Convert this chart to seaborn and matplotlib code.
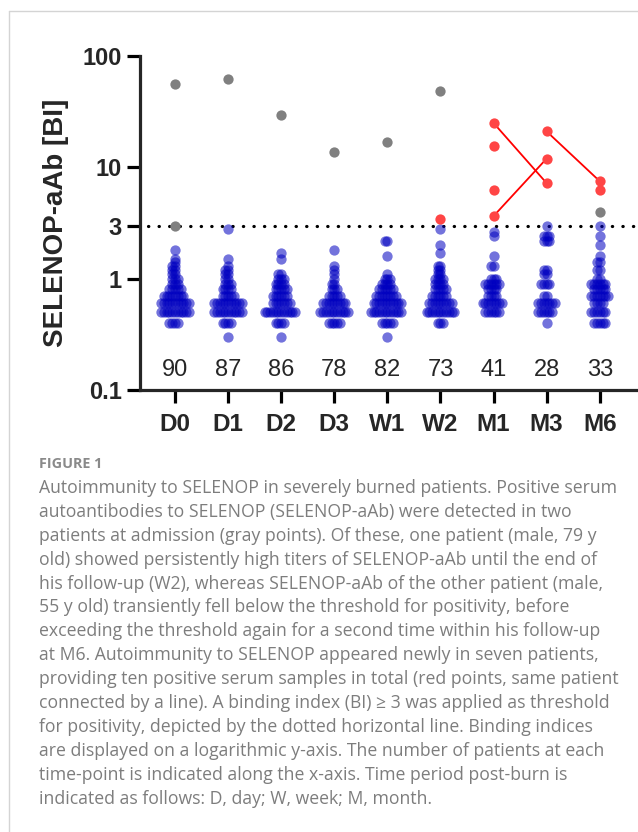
import matplotlib
matplotlib.use("Agg")
import matplotlib.pyplot as plt
from matplotlib.lines import Line2D
from matplotlib.ticker import NullLocator
import pandas as pd
import seaborn as sns

timepoints = ["D0", "D1", "D2", "D3", "W1", "W2", "M1", "M3", "M6"]
n_patients = [90, 87, 86, 78, 82, 73, 41, 28, 33]

# negative samples: how many sit on each binding-index level, per time point
bi_levels = [0.3, 0.4, 0.5, 0.6, 0.7, 0.8, 0.9, 1.0, 1.1, 1.2, 1.3, 1.4,
             1.5, 1.6, 1.7, 1.8, 2.0, 2.2, 2.4, 2.6, 2.8, 3.0]
counts_d0 = [0, 4, 11, 11, 8, 5, 3, 3, 2, 2, 2, 1, 1, 0, 0, 1, 0, 0, 0, 0, 0, 0]
counts_d1 = [1, 4, 11, 11, 5, 4, 3, 2, 2, 2, 1, 0, 1, 0, 0, 0, 0, 0, 0, 0, 1, 0]
counts_d2 = [1, 4, 12, 7, 6, 5, 4, 3, 2, 0, 0, 0, 1, 0, 1, 0, 0, 0, 0, 0, 0, 0]
counts_d3 = [0, 5, 11, 9, 5, 3, 2, 1, 1, 1, 1, 0, 0, 0, 0, 1, 0, 0, 0, 0, 0, 0]
counts_w1 = [1, 5, 12, 11, 8, 6, 4, 3, 1, 0, 0, 0, 0, 1, 0, 0, 0, 2, 0, 0, 0, 0]
counts_w2 = [0, 3, 11, 9, 6, 5, 4, 4, 2, 2, 2, 0, 0, 0, 1, 0, 1, 0, 0, 0, 1, 0]
counts_m1 = [0, 0, 6, 8, 4, 4, 6, 3, 0, 0, 2, 0, 0, 1, 0, 0, 0, 0, 1, 1, 0, 0]
counts_m3 = [0, 1, 6, 7, 2, 0, 4, 0, 2, 2, 0, 0, 0, 0, 0, 0, 0, 3, 3, 0, 0, 1]
counts_m6 = [0, 5, 6, 4, 7, 5, 6, 2, 0, 2, 0, 2, 0, 1, 0, 0, 1, 0, 1, 0, 0, 1]
blue_counts = [counts_d0, counts_d1, counts_d2, counts_d3, counts_w1,
               counts_w2, counts_m1, counts_m3, counts_m6]

# positive at admission (gray)
gray_time = ["D0", "D0", "D1", "D2", "D3", "W1", "W2", "M6"]
gray_bi = [56.5, 3.0, 62, 29.5, 13.6, 17, 48, 4.0]

# newly positive (red), and which samples belong to the same patient
red_time = ["W2", "M1", "M1", "M1", "M1", "M3", "M3", "M3", "M6", "M6"]
red_bi = [3.4, 25, 15.5, 6.2, 3.65, 21, 12, 7.2, 7.5, 6.3]
red_links = [(1, 7), (4, 6), (5, 8)]

threshold = 3

caption_lines = [
    "Autoimmunity to SELENOP in severely burned patients. Positive serum",
    "autoantibodies to SELENOP (SELENOP-aAb) were detected in two",
    "patients at admission (gray points). Of these, one patient (male, 79 y",
    "old) showed persistently high titers of SELENOP-aAb until the end of",
    "his follow-up (W2), whereas SELENOP-aAb of the other patient (male,",
    "55 y old) transiently fell below the threshold for positivity, before",
    "exceeding the threshold again for a second time within his follow-up",
    "at M6. Autoimmunity to SELENOP appeared newly in seven patients,",
    "providing ten positive serum samples in total (red points, same patient",
    "connected by a line). A binding index (BI) \u2265 3 was applied as threshold",
    "for positivity, depicted by the dotted horizontal line. Binding indices",
    "are displayed on a logarithmic y-axis. The number of patients at each",
    "time-point is indicated along the x-axis. Time period post-burn is",
    "indicated as follows: D, day; W, week; M, month.",
]

rows = []
for tp, counts in zip(timepoints, blue_counts):
    for lvl, c in zip(bi_levels, counts):
        rows += [(tp, lvl)] * c
neg = pd.DataFrame(rows, columns=["time", "bi"])
gray = pd.DataFrame({"time": gray_time, "bi": gray_bi})
red = pd.DataFrame({"time": red_time, "bi": red_bi})

sns.set_style("ticks")
plt.rcParams["font.family"] = ["Liberation Sans", "DejaVu Sans"]

W, H = 638, 832
fig = plt.figure(figsize=(W / 100, H / 100), dpi=100)
ax = fig.add_axes([140 / W, (H - 390) / H, (W - 140) / W, 334 / H])

ax.axhline(threshold, xmin=0.016, color="black", lw=2.3,
           ls=(0, (0.1, 3.2)), dash_capstyle="round", zorder=0.5)

n0 = len(ax.collections)
sns.swarmplot(data=neg, x="time", y="bi", order=timepoints, color="#0000C0",
              alpha=0.55, size=1.9, linewidth=0, log_scale=True, ax=ax)
swarm_colls = ax.collections[n0:]

sns.stripplot(data=gray, x="time", y="bi", order=timepoints, jitter=False,
              color="#808080", size=7.4, linewidth=0, zorder=3, ax=ax)
for i, j in red_links:
    ax.plot([timepoints.index(red_time[i]), timepoints.index(red_time[j])],
            [red_bi[i], red_bi[j]], color="#FF0000", lw=1.3, zorder=2.5)
sns.stripplot(data=red, x="time", y="bi", order=timepoints, jitter=False,
              color="#FF4545", size=7.4, linewidth=0, zorder=3, ax=ax)

for i, n in enumerate(n_patients):
    ax.text(i, 0.152, str(n), ha="center", va="center", fontsize=17)

ax.set_ylim(0.1, 100)
ax.set_xlim(-0.66, 8.72)
ax.set_yticks([0.1, 1, 3, 10, 100], labels=["0.1", "1", "3", "10", "100"])
ax.yaxis.set_minor_locator(NullLocator())
ax.set_xlabel("")
ax.set_ylabel("SELENOP-aAb [BI]", fontsize=20, fontweight="bold", labelpad=10)
sns.despine(ax=ax)
for side in ["left", "bottom"]:
    ax.spines[side].set_linewidth(2.3)
ax.tick_params(axis="both", length=9.4, width=2.3, color="black")
ax.tick_params(axis="y", labelsize=17, pad=3.5)
ax.tick_params(axis="x", labelsize=17.5, pad=7)
plt.setp(ax.get_xticklabels() + ax.get_yticklabels(), fontweight="bold")

# lay the swarm out with small spacing, then freeze it and enlarge the dots
fig.canvas.draw()
for coll in swarm_colls:
    coll.__dict__.pop("draw", None)
    coll.set_sizes([55])

# card border and caption
fig.add_artist(Line2D([9 / W, 1], [1 - 11 / H, 1 - 11 / H], color="#d4d4d4", lw=1))
fig.add_artist(Line2D([9 / W, 9 / W], [0, 1 - 11 / H], color="#d4d4d4", lw=1))
fig.text(39 / W, 1 - 464 / H, "FIGURE 1", fontsize=10.4, fontweight="bold",
         color="#8a8a8a", va="center", family=["Open Sans", "DejaVu Sans"])
for k, line in enumerate(caption_lines):
    fig.text(39 / W, 1 - (488 + 23.9 * k) / H, line, fontsize=12.7,
             color="#7d7d7d", va="center", family=["Open Sans", "DejaVu Sans"])

fig.savefig("out.png", dpi=100)
